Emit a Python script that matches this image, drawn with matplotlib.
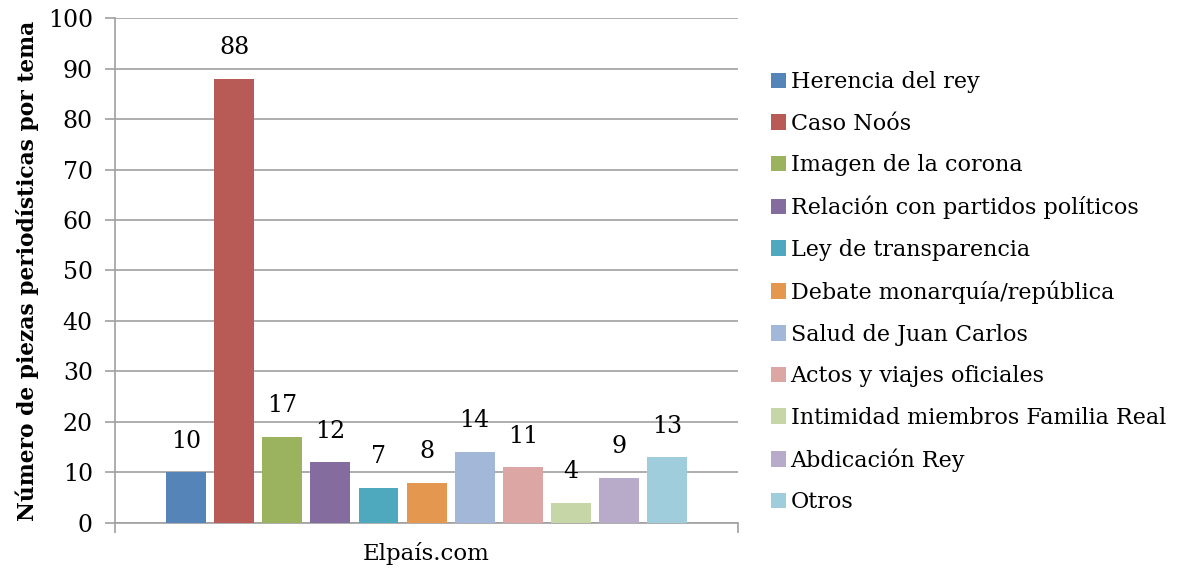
import matplotlib.pyplot as plt
import numpy as np

# data
category = "Elpaís.com"
temas = ["Herencia del rey", "Caso Noós", "Imagen de la corona",
         "Relación con partidos políticos", "Ley de transparencia",
         "Debate monarquía/república", "Salud de Juan Carlos",
         "Actos y viajes oficiales", "Intimidad miembros Familia Real",
         "Abdicación Rey", "Otros"]
piezas = [10, 88, 17, 12, 7, 8, 14, 11, 4, 9, 13]
colores = ["#5584b8", "#b85a55", "#9bb35e", "#846c9e", "#4ea8be", "#e3974f",
           "#a3b7d8", "#dba6a3", "#c6d6a7", "#b8aac9", "#a0cddc"]
yticks = [0, 10, 20, 30, 40, 50, 60, 70, 80, 90, 100]

plt.rcParams['font.family'] = ['DejaVu Serif']

fig = plt.figure(figsize=(11.81, 5.74), dpi=100)
ax = fig.add_axes([0.0974, 0.0889, 0.5276, 0.8797])

n = len(piezas)
step = 0.0772
width = 0.064
xs = (np.arange(n) - (n - 1) / 2) * step
for x, v, c, t in zip(xs, piezas, colores, temas):
    ax.bar(x, v, width=width, color=c, label=t, zorder=3)
    ax.text(x, v + 6.2, str(v), ha="center", va="center", fontsize=17)

ax.set_xlim(-0.5, 0.5)
ax.set_ylim(0, 100)
ax.set_yticks(yticks)
ax.tick_params(axis="y", labelsize=17, length=7, color="#a0a0a0", width=1.2,
               pad=9)
ax.set_xticks([0])
ax.set_xticklabels([category], fontsize=16.5)
ax.tick_params(axis="x", length=0, pad=14)
ax.set_xticks([-0.5, 0.5], minor=True)
ax.tick_params(axis="x", which="minor", length=7, color="#a0a0a0", width=1.2)
ax.grid(axis="y", color="#a0a0a0", linewidth=1.2, zorder=0)
for s in ["top", "right"]:
    ax.spines[s].set_visible(False)
for s in ["left", "bottom"]:
    ax.spines[s].set_color("#a0a0a0")
    ax.spines[s].set_linewidth(1.2)

ax.set_ylabel("Número de piezas periodísticas por tema", fontsize=15.7,
              fontweight="bold", labelpad=6)

ax.legend(loc="center left", bbox_to_anchor=(1.02, 0.457), frameon=False,
          fontsize=16, handlelength=0.7, handleheight=0.7, handletextpad=0.2,
          labelspacing=0.88)

fig.savefig("out.png", dpi=100)
